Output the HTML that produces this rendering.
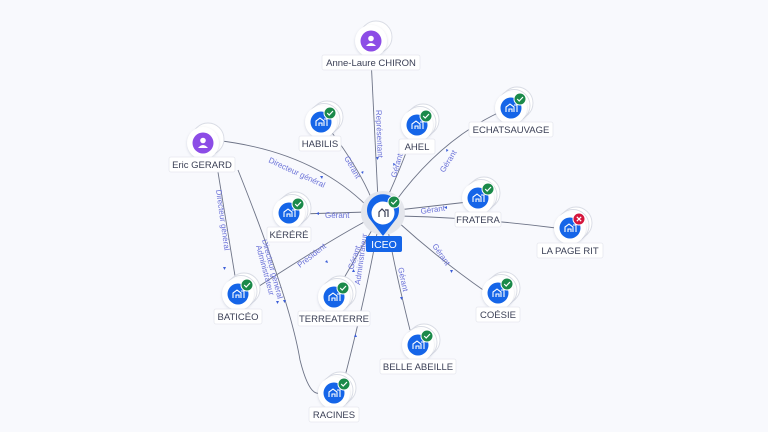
<!DOCTYPE html>
<html><head><meta charset="utf-8"><style>
html,body{margin:0;padding:0;background:#f8f9fd;}
svg{display:block;font-family:"Liberation Sans",sans-serif;}
.e{fill:none;stroke:#6e7487;stroke-width:0.9;}
.l{fill:#6b72d8;font-size:8px;}
.n{fill:#3a3f55;font-size:9.5px;}
.lb{fill:#fff;stroke:#e6e8ef;stroke-width:0.8;}
.ar{fill:#3d5fd8;}
</style></head><body>
<svg width="768" height="432" viewBox="0 0 768 432" xmlns="http://www.w3.org/2000/svg">
<defs>
<filter id="sh" x="-30%" y="-30%" width="160%" height="160%"><feDropShadow dx="0" dy="1" stdDeviation="1.2" flood-color="#8890aa" flood-opacity="0.35"/></filter>
<g id="co">
<circle cx="6" cy="-5" r="16" fill="#fff" stroke="#d8dbe4" stroke-width="0.9"/>
<circle cx="3" cy="-2.5" r="16" fill="#fff" stroke="#d8dbe4" stroke-width="0.9"/>
<circle cx="0" cy="0" r="16" fill="#fff" filter="url(#sh)"/>
<circle cx="0" cy="0" r="10.5" fill="#1565e8"/>
<path d="M-5 4 V-1 L-1 -4 L3 -1 V4 M-2 4 V1 H1 V4 M3 -3 H6 V4" fill="none" stroke="#fff" stroke-width="1.1"/>
</g>
<g id="ok"><circle r="6" fill="#1b8a4a" stroke="#fff" stroke-width="1"/><path d="M-2.8 0 L-0.8 2 L3 -2" fill="none" stroke="#fff" stroke-width="1.2"/></g>
<g id="pe">
<circle cx="5" cy="-4" r="16" fill="#fff" stroke="#d8dbe4" stroke-width="0.9"/>
<circle cx="0" cy="0" r="16" fill="#fff" filter="url(#sh)"/>
<circle r="10.5" fill="#8c4ce6"/>
<circle cy="-2.5" r="2.8" fill="#fff"/><path d="M-5 5 Q0 -1 5 5 Z" fill="#fff"/>
</g>
</defs>

<!-- edges -->
<path class="e" d="M371 58 L378 200"/>
<path class="e" d="M330 130 Q360 170 372 200"/>
<path class="e" d="M413 134 Q400 170 387 198"/>
<path class="e" d="M500 112 Q440 140 395 202"/>
<path class="e" d="M468 202 L398 210"/>
<path class="e" d="M556 228 Q480 218 400 216"/>
<path class="e" d="M300 214 L367 212"/>
<path class="e" d="M213 140 Q310 150 367 206"/>
<path class="e" d="M216 160 L236 282"/>
<path class="e" d="M238 170 Q290 300 300 360 Q310 400 322 392"/>
<path class="e" d="M250 292 Q330 240 368 220"/>
<path class="e" d="M340 285 Q360 250 375 225"/>
<path class="e" d="M343 384 Q365 300 378 228"/>
<path class="e" d="M410 330 Q395 270 388 230"/>
<path class="e" d="M486 292 Q440 260 398 222"/>

<!-- arrowheads -->
<path class="ar" d="M376 157 l3 0 l-1.5 3z"/>
<path class="ar" d="M361 172 l2.5 -1 l-0.5 3z"/>
<path class="ar" d="M393 163 l2.5 1 l-2 2z"/>
<path class="ar" d="M446 149 l2.5 1 l-2 2z"/>
<path class="ar" d="M447 206 l0 3 l-3 -1.5z"/>
<path class="ar" d="M319 212 l0 3 l-3 -1.5z"/>
<path class="ar" d="M320 176 l3 0 l-1 3z"/>
<path class="ar" d="M223 267 l3 0 l-1.5 3z"/>
<path class="ar" d="M276 301 l3 0 l-1.5 3z"/>
<path class="ar" d="M283 300 l3 0 l-1.5 3z"/>
<path class="ar" d="M325 262 l2 -2 l1 3z"/>
<path class="ar" d="M352 272 l3 0 l-1.5 -3z"/>
<path class="ar" d="M354 337 l3 0 l-1.5 -3z"/>
<path class="ar" d="M400 297 l3 0 l-1.5 3z"/>
<path class="ar" d="M450 270 l3 0 l-1.5 3z"/>

<!-- edge labels -->
<text class="l" transform="translate(376,110) rotate(88)">Représentant</text>
<text class="l" transform="translate(344,158) rotate(60)">Gérant</text>
<text class="l" transform="translate(396,178) rotate(-74)">Gérant</text>
<text class="l" transform="translate(444,173) rotate(-58)">Gérant</text>
<text class="l" transform="translate(421,214) rotate(-8)">Gérant</text>
<text class="l" transform="translate(325,218)">Gérant</text>
<text class="l" transform="translate(268,162) rotate(25)">Directeur général</text>
<text class="l" transform="translate(216,190) rotate(82)">Directeur général</text>
<text class="l" transform="translate(262,240) rotate(75)">Directeur général</text>
<text class="l" transform="translate(256,246) rotate(75)">Administrateur</text>
<text class="l" transform="translate(300,268) rotate(-38)">Président</text>
<text class="l" transform="translate(353,270) rotate(-72)">Gérant</text>
<text class="l" transform="translate(360,285) rotate(-82)">Administrateur</text>
<text class="l" transform="translate(398,268) rotate(78)">Gérant</text>
<text class="l" transform="translate(432,246) rotate(55)">Gérant</text>

<!-- ICEO -->
<circle cx="383" cy="213" r="22" fill="#e4e6ec"/>
<path d="M369 218 A16 16 0 1 1 397 218 L383 236 Z" fill="#1565e8"/>
<circle cx="383" cy="213" r="11.5" fill="#fff"/>
<path d="M379 217 V212 L382 209 L385 212 V217 M385 210 H388 V217" fill="none" stroke="#3a3f55" stroke-width="1.2"/>
<use href="#ok" x="394" y="202"/>
<rect x="366" y="236" width="36" height="16" rx="2" fill="#1565e8"/>
<text x="384" y="248" text-anchor="middle" fill="#fff" font-size="10.5">ICEO</text>

<!-- persons -->
<use href="#pe" x="371" y="41"/>
<rect class="lb" x="322" y="55" width="98" height="15" rx="2"/>
<text class="n" x="371" y="66" text-anchor="middle">Anne-Laure CHIRON</text>
<use href="#pe" x="203" y="143"/>
<rect class="lb" x="169" y="157" width="66" height="15" rx="2"/>
<text class="n" x="202" y="168" text-anchor="middle">Eric GERARD</text>

<!-- companies -->
<use href="#co" x="321" y="122"/><use href="#ok" x="330" y="113"/>
<rect class="lb" x="299" y="136" width="42" height="15" rx="2"/><text class="n" x="320" y="147" text-anchor="middle">HABILIS</text>

<use href="#co" x="417" y="125"/><use href="#ok" x="426" y="116"/>
<rect class="lb" x="399" y="139" width="36" height="15" rx="2"/><text class="n" x="417" y="150" text-anchor="middle">AHEL</text>

<use href="#co" x="511" y="108"/><use href="#ok" x="520" y="99"/>
<rect class="lb" x="469" y="122" width="84" height="15" rx="2"/><text class="n" x="511" y="133" text-anchor="middle">ECHATSAUVAGE</text>

<use href="#co" x="478" y="198"/><use href="#ok" x="488" y="189"/>
<rect class="lb" x="455" y="212" width="46" height="15" rx="2"/><text class="n" x="478" y="223" text-anchor="middle">FRATERA</text>

<use href="#co" x="570" y="228"/>
<g transform="translate(579,219)"><circle r="6" fill="#d4163c" stroke="#fff" stroke-width="1"/><path d="M-2.2 -2.2 L2.2 2.2 M2.2 -2.2 L-2.2 2.2" stroke="#fff" stroke-width="1.2"/></g>
<rect class="lb" x="537" y="243" width="66" height="15" rx="2"/><text class="n" x="570" y="254" text-anchor="middle">LA PAGE RIT</text>

<use href="#co" x="289" y="213"/><use href="#ok" x="298" y="204"/>
<rect class="lb" x="267" y="227" width="44" height="15" rx="2"/><text class="n" x="289" y="238" text-anchor="middle">KÉRÉRÉ</text>

<use href="#co" x="238" y="294"/><use href="#ok" x="247" y="285"/>
<rect class="lb" x="214" y="309" width="48" height="15" rx="2"/><text class="n" x="238" y="320" text-anchor="middle">BATICÉO</text>

<use href="#co" x="334" y="297"/><use href="#ok" x="343" y="288"/>
<rect class="lb" x="298" y="311" width="72" height="15" rx="2"/><text class="n" x="334" y="322" text-anchor="middle">TERREATERRE</text>

<use href="#co" x="498" y="293"/><use href="#ok" x="507" y="284"/>
<rect class="lb" x="476" y="307" width="44" height="15" rx="2"/><text class="n" x="498" y="318" text-anchor="middle">COÉSIE</text>

<use href="#co" x="418" y="345"/><use href="#ok" x="427" y="336"/>
<rect class="lb" x="380" y="359" width="76" height="15" rx="2"/><text class="n" x="418" y="370" text-anchor="middle">BELLE ABEILLE</text>

<use href="#co" x="334" y="393"/><use href="#ok" x="344" y="384"/>
<rect class="lb" x="309" y="407" width="50" height="15" rx="2"/><text class="n" x="334" y="418" text-anchor="middle">RACINES</text>
</svg>
</body></html>
